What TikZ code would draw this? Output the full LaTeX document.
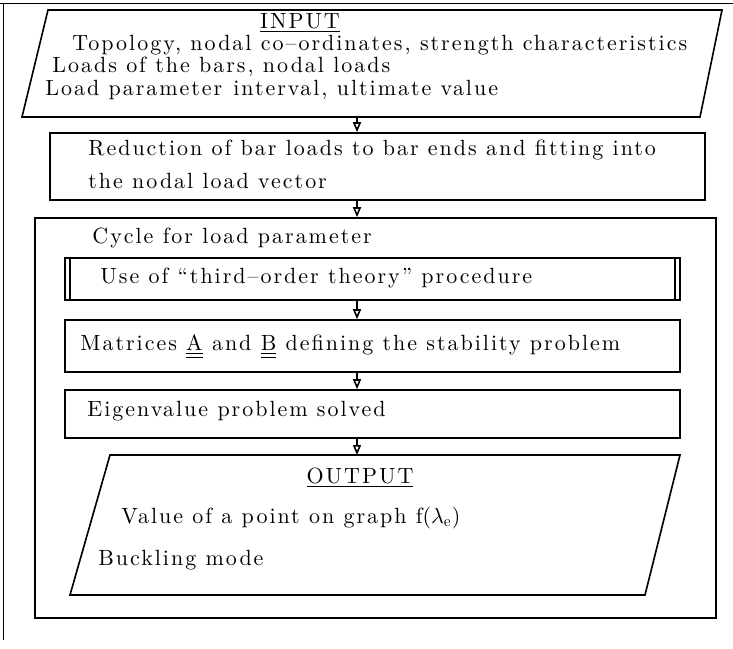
\documentclass[tikz,border=0pt]{standalone}
\usepackage{fontspec}
\setmainfont{lmroman10-regular.otf}[
  ItalicFont=lmroman10-italic.otf,
  BoldFont=lmroman10-bold.otf,
  LetterSpace=9]
\usetikzlibrary{arrows.meta,fit}

\tikzset{
  box/.style={draw, thick, inner sep=0pt},
  arr/.style={thick, -{Triangle[open,length=5pt,width=4pt]}},
  txt/.style={anchor=west, inner sep=0pt},
}

\begin{document}
\begin{tikzpicture}[x=0.5pt,y=-0.5pt, font=\fontsize{11}{13}\selectfont]
\useasboundingbox (0,0) rectangle (733,648);

% page frame
\draw[thin] (0,3) -- (733,3);
\draw[thin] (3,3) -- (3,640);

% input
\draw[thick] (48,10) -- (722,10) -- (700,117) -- (22,117) -- cycle;
\coordinate (inb) at (357,117);
\node (intitle) at (300,23) {\underline{INPUT}};
\node[txt] (in1) at (72,45) {Topology, nodal co--ordinates, strength characteristics};
\node[txt] (in2) at (52,67) {Loads of the bars, nodal loads};
\node[txt] (in3) at (45,90) {Load parameter\enspace interval, ultimate value};

\node[box, fit={(50,133) (705,200)}] (reduce) {};
\node[txt] (red1) at (88,150) {Reduction of bar loads to bar ends and fitting into};
\node[txt] (red2) at (88,181) {the nodal load vector};

% cycle
\node[box, fit={(35,218) (716,618)}] (cycle) {};
\node[txt] (cyc) at (92,238) {Cycle for load parameter};

\node[box, fit={(65,258) (680,300)}] (third) {};
\draw[thick] (70,258) -- (70,300);
\draw[thick] (675,258) -- (675,300);
\node[txt] (thirdt) at (100,278) {Use of ``third--order theory'' procedure};

\node[box, fit={(65,320) (680,372)}] (matr) {};
\node[txt] (matrt) at (80,347) {Matrices \underline{\underline{A}} and \underline{\underline{B}} defining the stability problem};

\node[box, fit={(65,390) (680,438)}] (eigen) {};
\node[txt] (eigent) at (87,411) {Eigenvalue problem solved};

\draw[thick] (110,455) -- (680,455) -- (645,595) -- (70,595) -- cycle;
\coordinate (outt) at (357,455);
\node (outtitle) at (360,478) {\underline{OUTPUT}};
\node[txt] (out1) at (121,518) {Value of a point on graph f$(\lambda_{\mathrm{e}})$};
\node[txt] (out2) at (98,560) {Buckling mode};

% arrows
\coordinate (ax) at (357,0);
\draw[arr] (inb) -- (reduce.north -| ax);
\draw[arr] (reduce.south -| ax) -- (cycle.north -| ax);
\draw[arr] (third.south -| ax) -- (matr.north -| ax);
\draw[arr] (matr.south -| ax) -- (eigen.north -| ax);
\draw[arr] (eigen.south -| ax) -- (outt);
\end{tikzpicture}
\end{document}
